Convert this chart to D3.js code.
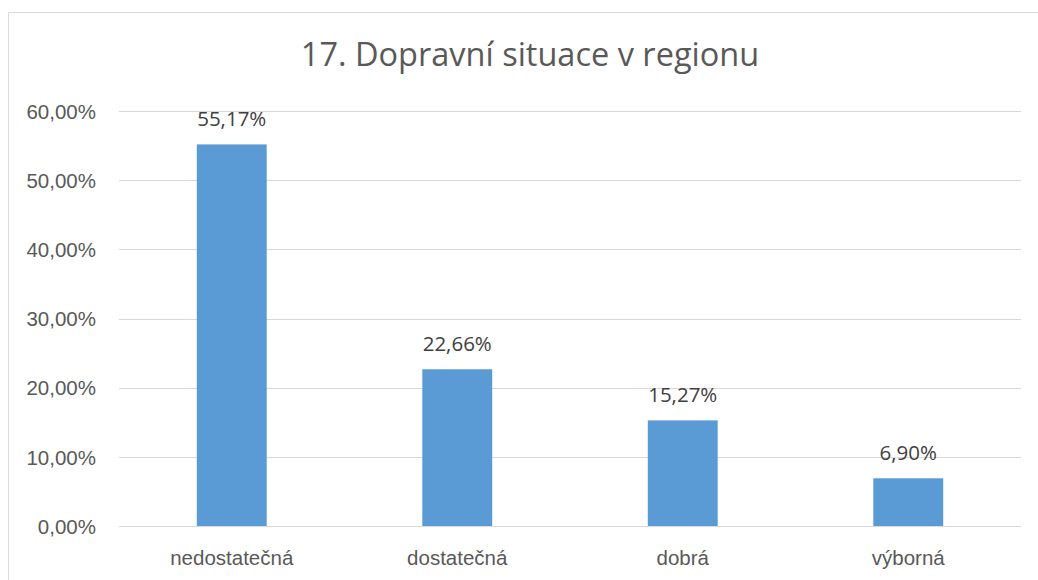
<!DOCTYPE html>
<html>
<head>
<meta charset="utf-8">
<script src="https://cdn.jsdelivr.net/npm/d3@7"></script>
<style>
  html, body { margin: 0; padding: 0; background: #fff; }
  svg { display: block; font-family: "Open Sans", "Noto Sans", sans-serif; }
</style>
</head>
<body>
<svg id="chart" width="1038" height="580"></svg>
<script>
const title = "17. Dopravní situace v regionu";
const categories = ["nedostatečná", "dostatečná", "dobrá", "výborná"];
const values = [55.17, 22.66, 15.27, 6.90];
const tickValues = [0, 10, 20, 30, 40, 50, 60];

const fmt = v => d3.format(".2f")(v).replace(".", ",") + "%";

const svg = d3.select("#chart");
const W = 1038, H = 580;
const margin = { left: 119, right: 17, top: 111, bottom: 54 };
const labelSize = "20.5px";

// chart frame
svg.append("path")
  .attr("d", `M8.5,${H} V12.5 H${W}`)
  .attr("fill", "none")
  .attr("stroke", "#d9d9d9")
  .attr("stroke-width", 1);

const x = d3.scaleBand()
  .domain(categories)
  .range([margin.left, W - margin.right])
  .paddingInner(0.69)
  .paddingOuter(0.345);

const y = d3.scaleLinear()
  .domain([0, 60])
  .range([H - margin.bottom, margin.top]);

// gridlines
svg.append("g")
  .selectAll("line")
  .data(tickValues)
  .join("line")
  .attr("x1", margin.left)
  .attr("x2", W - margin.right)
  .attr("y1", d => Math.round(y(d)) + 0.5)
  .attr("y2", d => Math.round(y(d)) + 0.5)
  .attr("stroke", "#d9d9d9")
  .attr("stroke-width", 1.2);

// y axis labels
const yAxis = d3.axisLeft(y).tickValues(tickValues).tickFormat(fmt).tickSize(0).tickPadding(0);
const gy = svg.append("g").attr("transform", "translate(96,0)").call(yAxis);
gy.select(".domain").remove();
gy.selectAll("text").attr("fill", "#595959").style("font-size", labelSize).attr("dy", "0.35em");

// x axis labels
const xAxis = d3.axisBottom(x).tickSize(0).tickPadding(0);
const gx = svg.append("g").attr("transform", `translate(0,${H - margin.bottom})`).call(xAxis);
gx.select(".domain").remove();
gx.selectAll("text").attr("fill", "#595959").style("font-size", labelSize).attr("y", 39).attr("dy", "0");

// bars
svg.append("g")
  .selectAll("rect")
  .data(values)
  .join("rect")
  .attr("x", (d, i) => x(categories[i]))
  .attr("width", x.bandwidth())
  .attr("y", d => y(d))
  .attr("height", d => y(0) - y(d))
  .attr("fill", "#5b9bd5");

// value labels
svg.append("g")
  .selectAll("text")
  .data(values)
  .join("text")
  .attr("x", (d, i) => x(categories[i]) + x.bandwidth() / 2)
  .attr("y", d => y(d) - 18.5)
  .attr("text-anchor", "middle")
  .attr("fill", "#404040")
  .style("font-size", labelSize)
  .text(fmt);

// title
svg.append("text")
  .attr("x", 530)
  .attr("y", 66)
  .attr("text-anchor", "middle")
  .attr("fill", "#595959")
  .style("font-size", "32.5px")
  .text(title);
</script>
</body>
</html>
